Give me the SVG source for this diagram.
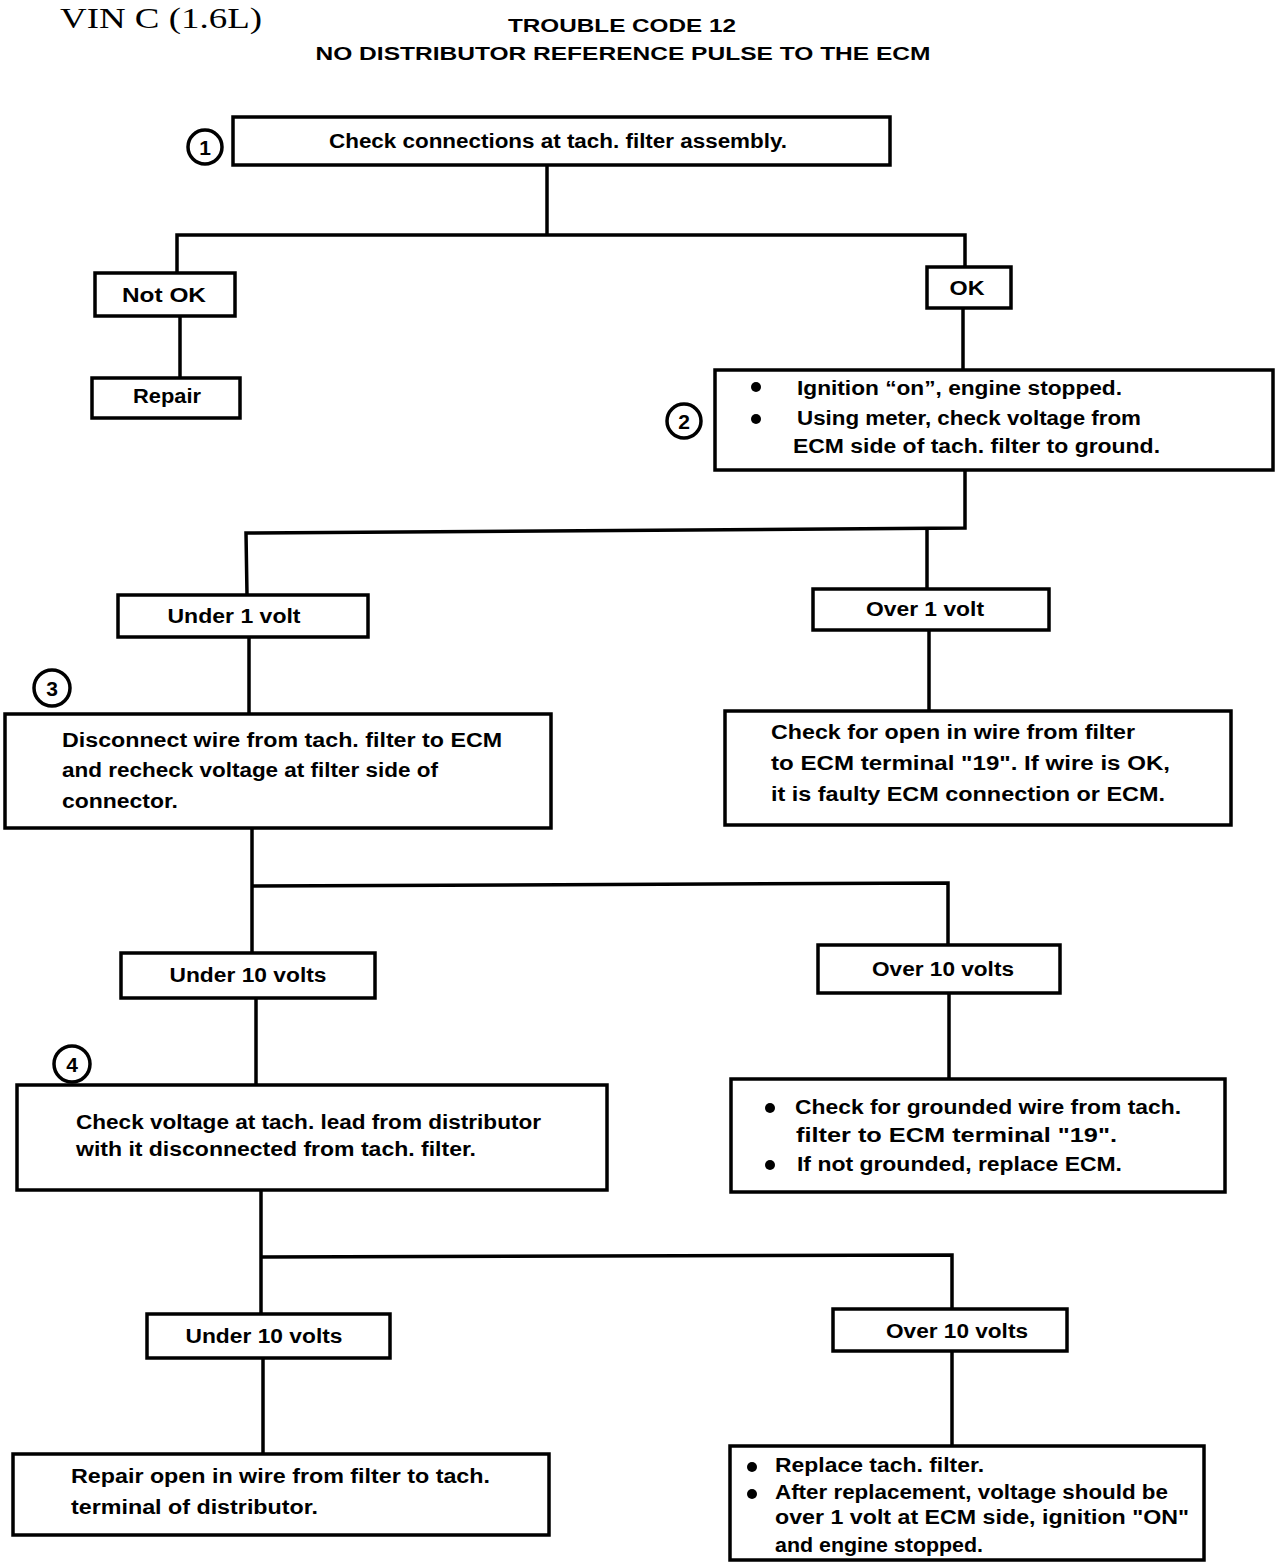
<svg xmlns="http://www.w3.org/2000/svg" width="1280" height="1564" viewBox="0 0 1280 1564">
<style>
.box{fill:#fff;stroke:#000;stroke-width:3.5}
.ln{fill:none;stroke:#000;stroke-width:3.5}
.t{font-family:"Liberation Sans",Arial,sans-serif;font-weight:bold;font-size:20px;fill:#000}
.c{text-anchor:middle}
.num{fill:#fff;stroke:#000;stroke-width:3.5}
.nt{font-family:"Liberation Sans",Arial,sans-serif;font-weight:bold;font-size:21px;text-anchor:middle}
.hd{font-family:"Liberation Sans",Arial,sans-serif;font-weight:bold;font-size:18px;text-anchor:middle}
</style>
<rect width="1280" height="1564" fill="#fff"/>
<g id="header">
<text x="60" y="28" font-family="Liberation Serif,serif" font-size="30" textLength="202" lengthAdjust="spacingAndGlyphs">VIN  C  (1.6L)</text>
<text class="hd" x="622" y="32" textLength="228" lengthAdjust="spacingAndGlyphs">TROUBLE CODE 12</text>
<text class="hd" x="623" y="60" textLength="615" lengthAdjust="spacingAndGlyphs">NO DISTRIBUTOR REFERENCE PULSE TO THE ECM</text>
</g>
<g id="connectors">
<polyline class="ln" points="547,165 547,235"/>
<polyline class="ln" points="177,273 177,235 965,235 965,267"/>
<polyline class="ln" points="180,316 180,378"/>
<polyline class="ln" points="963,308 963,370"/>
<polyline class="ln" points="965,470 965,528 246,533 247,595"/>
<polyline class="ln" points="927,528 927,589"/>
<polyline class="ln" points="249,637 249,714"/>
<polyline class="ln" points="929,630 929,711"/>
<polyline class="ln" points="252,828 252,953"/>
<polyline class="ln" points="252,886 948,883 948,945"/>
<polyline class="ln" points="256,998 256,1085"/>
<polyline class="ln" points="949,993 949,1079"/>
<polyline class="ln" points="261,1190 261,1314"/>
<polyline class="ln" points="261,1257 952,1255 952,1309"/>
<polyline class="ln" points="263,1358 263,1454"/>
<polyline class="ln" points="952,1351 952,1446"/>
</g>
<g id="step1">
<circle class="num" cx="205" cy="147" r="17"/><text class="nt" x="205" y="155">1</text>
<rect class="box" x="233" y="117" width="657" height="48"/>
<text class="t c" x="558" y="148" textLength="458" lengthAdjust="spacingAndGlyphs">Check connections at tach. filter assembly.</text>
</g>
<g id="notok"><rect class="box" x="95" y="273" width="140" height="43"/><text class="t c" x="164" y="302" textLength="84" lengthAdjust="spacingAndGlyphs">Not OK</text></g>
<g id="repair"><rect class="box" x="92" y="378" width="148" height="40"/><text class="t c" x="167" y="403" textLength="68" lengthAdjust="spacingAndGlyphs">Repair</text></g>
<g id="ok"><rect class="box" x="927" y="267" width="84" height="41"/><text class="t c" x="967" y="295" textLength="35" lengthAdjust="spacingAndGlyphs">OK</text></g>
<g id="step2">
<circle class="num" cx="684" cy="421" r="17"/><text class="nt" x="684" y="429">2</text>
<rect class="box" x="715" y="370" width="558" height="100"/>
<circle cx="756" cy="387" r="5"/><circle cx="756" cy="419" r="5"/>
<text class="t" x="797" y="395" textLength="325" lengthAdjust="spacingAndGlyphs">Ignition “on”, engine stopped.</text>
<text class="t" x="797" y="425" textLength="344" lengthAdjust="spacingAndGlyphs">Using meter, check voltage from</text>
<text class="t" x="793" y="453" textLength="367" lengthAdjust="spacingAndGlyphs">ECM side of tach. filter to ground.</text>
</g>
<g id="under1"><rect class="box" x="118" y="595" width="250" height="42"/><text class="t c" x="234" y="623" textLength="133" lengthAdjust="spacingAndGlyphs">Under 1 volt</text></g>
<g id="over1"><rect class="box" x="813" y="589" width="236" height="41"/><text class="t c" x="925" y="616" textLength="118" lengthAdjust="spacingAndGlyphs">Over 1 volt</text></g>
<g id="step3">
<circle class="num" cx="52" cy="688" r="18"/><text class="nt" x="52" y="696">3</text>
<rect class="box" x="5" y="714" width="546" height="114"/>
<text class="t" x="62" y="747" textLength="440" lengthAdjust="spacingAndGlyphs">Disconnect wire from tach. filter to ECM</text>
<text class="t" x="62" y="777" textLength="376" lengthAdjust="spacingAndGlyphs">and recheck voltage at filter side of</text>
<text class="t" x="62" y="808" textLength="116" lengthAdjust="spacingAndGlyphs">connector.</text>
</g>
<g id="over1result">
<rect class="box" x="725" y="711" width="506" height="114"/>
<text class="t" x="771" y="739" textLength="364" lengthAdjust="spacingAndGlyphs">Check for open in wire from filter</text>
<text class="t" x="771" y="770" textLength="399" lengthAdjust="spacingAndGlyphs">to ECM terminal "19". If wire is OK,</text>
<text class="t" x="771" y="801" textLength="394" lengthAdjust="spacingAndGlyphs">it is faulty ECM connection or ECM.</text>
</g>
<g id="under10a"><rect class="box" x="121" y="953" width="254" height="45"/><text class="t c" x="248" y="982" textLength="157" lengthAdjust="spacingAndGlyphs">Under 10 volts</text></g>
<g id="over10a"><rect class="box" x="818" y="945" width="242" height="48"/><text class="t c" x="943" y="976" textLength="142" lengthAdjust="spacingAndGlyphs">Over 10 volts</text></g>
<g id="step4">
<circle class="num" cx="72" cy="1064" r="18"/><text class="nt" x="72" y="1072">4</text>
<rect class="box" x="17" y="1085" width="590" height="105"/>
<text class="t" x="76" y="1129" textLength="465" lengthAdjust="spacingAndGlyphs">Check voltage at tach. lead from distributor</text>
<text class="t" x="76" y="1156" textLength="400" lengthAdjust="spacingAndGlyphs">with it disconnected from tach. filter.</text>
</g>
<g id="over10result">
<rect class="box" x="731" y="1079" width="494" height="113"/>
<circle cx="770" cy="1108" r="5"/><circle cx="770" cy="1165" r="5"/>
<text class="t" x="795" y="1114" textLength="386" lengthAdjust="spacingAndGlyphs">Check for grounded wire from tach.</text>
<text class="t" x="796" y="1142" textLength="321" lengthAdjust="spacingAndGlyphs">filter to ECM terminal "19".</text>
<text class="t" x="797" y="1171" textLength="325" lengthAdjust="spacingAndGlyphs">If not grounded, replace ECM.</text>
</g>
<g id="under10b"><rect class="box" x="147" y="1314" width="243" height="44"/><text class="t c" x="264" y="1343" textLength="157" lengthAdjust="spacingAndGlyphs">Under 10 volts</text></g>
<g id="over10b"><rect class="box" x="833" y="1309" width="234" height="42"/><text class="t c" x="957" y="1338" textLength="142" lengthAdjust="spacingAndGlyphs">Over 10 volts</text></g>
<g id="repairopen">
<rect class="box" x="13" y="1454" width="536" height="81"/>
<text class="t" x="71" y="1483" textLength="419" lengthAdjust="spacingAndGlyphs">Repair open in wire from filter to tach.</text>
<text class="t" x="71" y="1514" textLength="247" lengthAdjust="spacingAndGlyphs">terminal of distributor.</text>
</g>
<g id="replacefilter">
<rect class="box" x="730" y="1446" width="474" height="114"/>
<circle cx="752" cy="1467" r="5"/><circle cx="752" cy="1494" r="5"/>
<text class="t" x="775" y="1472" textLength="209" lengthAdjust="spacingAndGlyphs">Replace tach. filter.</text>
<text class="t" x="775" y="1499" textLength="393" lengthAdjust="spacingAndGlyphs">After replacement, voltage should be</text>
<text class="t" x="775" y="1524" textLength="414" lengthAdjust="spacingAndGlyphs">over 1 volt at ECM side, ignition "ON"</text>
<text class="t" x="775" y="1552" textLength="208" lengthAdjust="spacingAndGlyphs">and engine stopped.</text>
</g>
</svg>
